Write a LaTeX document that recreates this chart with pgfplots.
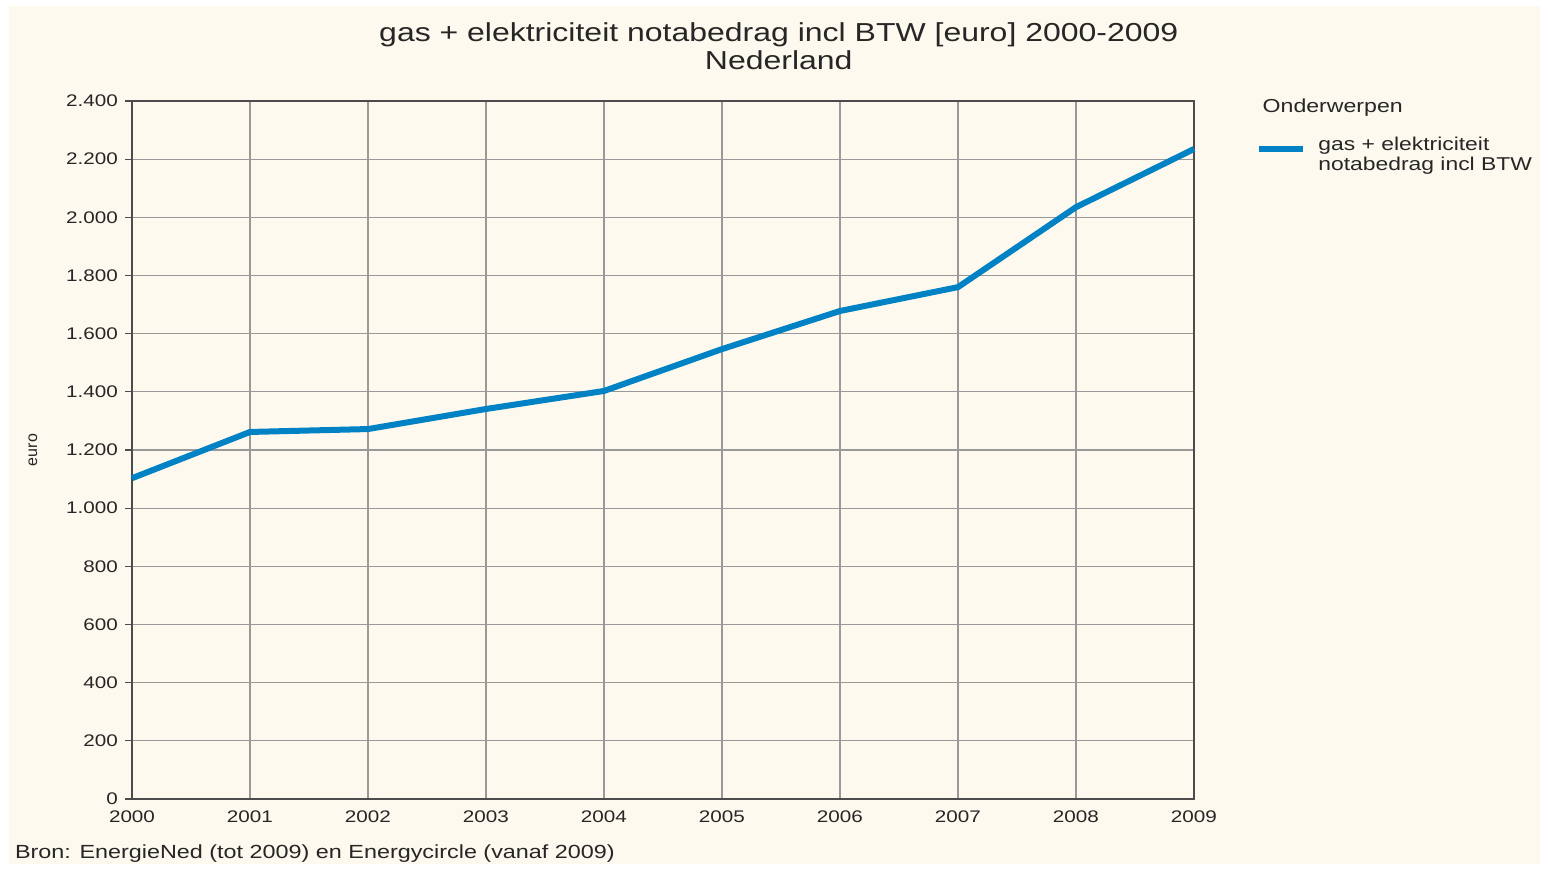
\documentclass[border=0pt]{standalone}
\usepackage{pgfplots}
\pgfplotsset{compat=1.18}
\usepackage{fontspec}
\setmainfont[FakeStretch=1.23]{Liberation Sans}
\newfontfamily\plainfont{Liberation Sans}
\definecolor{bgcream}{HTML}{FDF9EE}
\definecolor{linecol}{HTML}{0082C4}
\definecolor{txt}{HTML}{262626}
\begin{document}
\begin{tikzpicture}
\fill[white] (0pt,0pt) rectangle (771pt,432pt);
\fill[bgcream] (4.5pt,0pt) rectangle (770pt,429pt);
\begin{axis}[
  at={(66pt,32.5pt)}, anchor=south west,
  scale only axis, width=531pt, height=349pt,
  xmin=2000, xmax=2009, ymin=0, ymax=2400,
  xtick={2000,...,2009}, ytick={0,200,...,2400},
  xtick pos=bottom, ytick pos=left,
  grid=major,
  major grid style={color=black!40, line width=0.6pt},
  axis line style={color=black!70, line width=0.7pt},
  tick style={color=black!70, line width=0.6pt},
  xtick style={draw=none},
  tick align=outside, major tick length=3.5pt,
  /pgf/number format/assume math mode=true,
  xticklabel style={/pgf/number format/1000 sep={}, yshift=1pt},
  yticklabel style={/pgf/number format/1000 sep={.}},
  ticklabel style={font=\fontsize{8.4}{10}\selectfont, color=txt},
  ylabel={euro}, ylabel style={font=\plainfont\fontsize{8}{10}\selectfont, color=txt, at={(rel axis cs:0,0.5)}, anchor=center, yshift=49.5pt},
  title={gas + elektriciteit notabedrag incl BTW [euro] 2000-2009\\Nederland},
  title style={font=\fontsize{13}{14}\selectfont, color=txt, align=center, at={(0.609,1)}, yshift=6pt},
  legend style={at={(1.0527,0.961)}, anchor=north west, draw=none, fill=none,
    font=\fontsize{9.3}{10.3}\selectfont, text=txt, cells={align=left}},
  legend cell align=left,
  legend image code/.code={\draw[#1] (0pt,3pt) -- (22pt,3pt); \path (26pt,0pt);},
  clip=false,
]
\addplot[color=linecol, line width=3pt, line join=round] coordinates {
(2000,1103) (2001,1262) (2002,1272) (2003,1341) (2004,1403)
(2005,1547) (2006,1678) (2007,1760) (2008,2035) (2009,2235)};
\addlegendentry{gas + elektriciteit\\notabedrag incl BTW}
\node[anchor=west, font=\fontsize{9.4}{11}\selectfont, color=txt] at (rel axis cs:1.058,0.99) {Onderwerpen};
\end{axis}
\node[anchor=base west, font=\fontsize{9.5}{12}\selectfont, color=txt] at (4pt,2.5pt) {Bron: EnergieNed (tot 2009) en Energycircle (vanaf 2009)};
\end{tikzpicture}
\end{document}
